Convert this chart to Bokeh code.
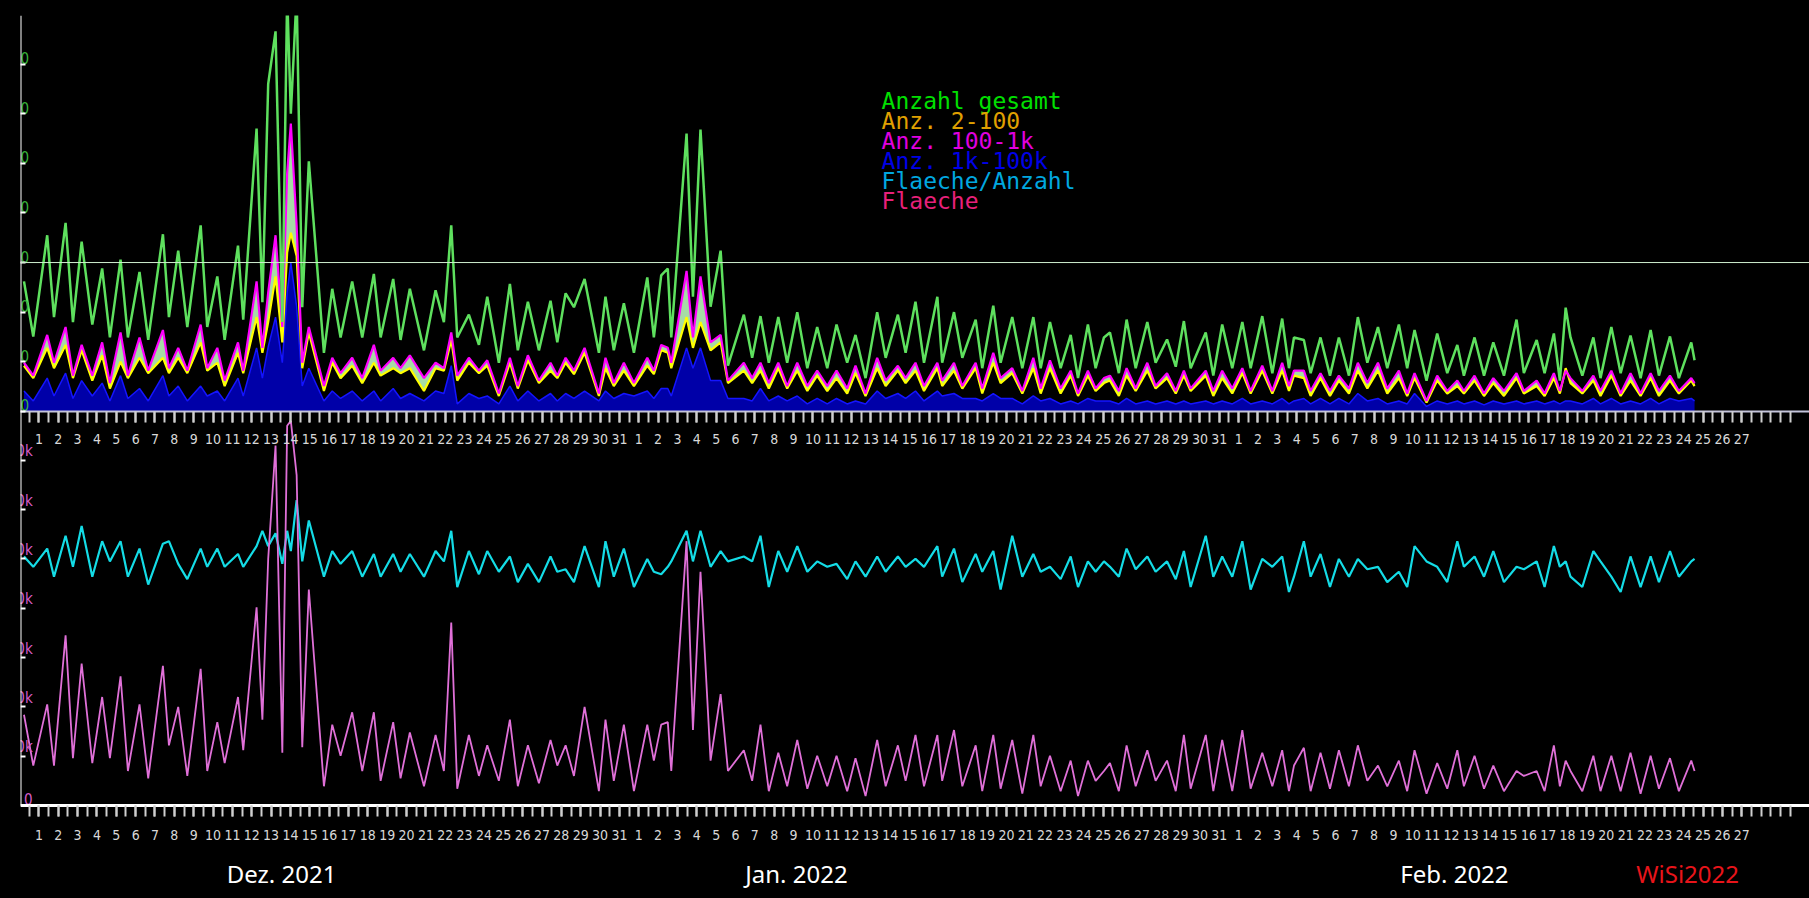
from bokeh.plotting import figure
from bokeh.models import Range1d, LinearAxis, FixedTicker, Span
from bokeh.core.properties import value
from bokeh.embed import file_html
from bokeh.resources import INLINE

# values
# t: day position, 1 = 1 Dec 2021, 32 = 1 Jan 2022, 63 = 1 Feb 2022
t = [
    0.23, 0.71, 1.43, 1.78, 2.38, 2.76, 3.21, 3.76, 4.27, 4.67,
    5.22, 5.60, 6.20, 6.65, 7.41, 7.72, 8.20, 8.67, 9.36, 9.70,
    10.22, 10.60, 11.29, 11.56, 12.25, 12.55, 12.85, 13.23, 13.58, 13.83,
    14.02, 14.32, 14.61, 14.95, 15.73, 16.16, 16.59, 17.19, 17.71, 18.31,
    18.66, 19.31, 19.69, 20.17, 20.90, 21.50, 21.93, 22.31, 22.62, 23.22,
    23.74, 24.17, 24.77, 25.34, 25.75, 26.27, 26.84, 27.44, 27.79, 28.22,
    28.65, 29.20, 29.94, 30.28, 30.71, 31.23, 31.75, 32.44, 32.78, 33.16,
    33.50, 33.68, 34.47, 34.80, 35.19, 35.71, 36.23, 36.61, 37.43, 37.86,
    38.29, 38.72, 39.21, 39.67, 40.19, 40.71, 41.22, 41.74, 42.22, 42.77,
    43.20, 43.72, 44.32, 44.76, 45.39, 45.79, 46.30, 46.74, 47.43, 47.68,
    48.29, 48.72, 49.41, 49.75, 50.32, 50.70, 51.30, 51.82, 52.39, 52.77,
    53.25, 53.80, 54.32, 54.70, 55.21, 55.61, 56.04, 56.35, 56.81, 57.21,
    57.68, 58.28, 58.71, 59.30, 59.75, 60.17, 60.52, 61.30, 61.69, 62.15,
    62.67, 63.19, 63.62, 64.22, 64.74, 65.25, 65.60, 65.86, 66.37, 66.72,
    67.23, 67.72, 68.18, 68.70, 69.16, 69.65, 70.20, 70.68, 71.28, 71.71,
    72.09, 72.71, 73.26, 73.78, 74.30, 74.64, 75.19, 75.68, 76.16, 76.71,
    77.36, 77.74, 78.40, 78.81, 79.29, 79.60, 79.90, 80.15, 80.76, 81.33,
    81.70, 82.26, 82.74, 83.25, 83.77, 84.29, 84.72, 85.29, 85.75, 86.39,
    86.56,
]
anzahl_gesamt = [
    26.2, 15.1, 35.5, 19.0, 38.0, 18.0, 34.2, 17.5, 28.8, 14.9,
    30.6, 14.9, 28.1, 14.4, 35.7, 19.0, 32.4, 17.0, 37.5, 17.0,
    27.2, 14.4, 33.4, 18.5, 57.0, 22.0, 66.0, 76.6, 18.0, 84.0,
    60.0, 84.0, 21.0, 50.4, 11.8, 24.7, 14.9, 26.2, 14.9, 27.7,
    14.9, 26.7, 14.4, 24.7, 12.3, 24.4, 18.0, 37.5, 14.9, 19.5,
    13.4, 23.1, 9.8, 25.7, 12.3, 22.1, 12.3, 22.3, 13.9, 23.8,
    21.0, 26.7, 11.8, 23.1, 12.3, 21.8, 11.8, 27.0, 14.9, 27.4,
    28.8, 14.9, 56.0, 23.1, 56.8, 21.1, 32.4, 9.2, 19.5, 10.8,
    19.2, 9.8, 19.0, 9.8, 20.0, 8.7, 17.0, 8.7, 17.5, 9.8,
    15.4, 6.7, 20.0, 10.8, 19.5, 11.8, 22.1, 9.8, 23.1, 9.8,
    20.0, 10.8, 18.5, 8.7, 21.3, 9.8, 19.0, 8.7, 19.0, 8.7,
    18.0, 8.7, 15.4, 6.7, 17.5, 8.7, 14.9, 15.9, 7.7, 18.5,
    8.7, 18.0, 9.8, 14.5, 9.0, 18.2, 8.7, 15.9, 7.2, 17.5,
    8.7, 18.0, 8.7, 19.2, 7.7, 18.7, 8.7, 14.9, 14.4, 7.7,
    14.9, 7.2, 14.9, 7.2, 19.0, 9.8, 17.0, 8.7, 17.5, 8.7,
    16.4, 6.2, 15.7, 7.7, 13.4, 7.2, 14.9, 7.2, 13.9, 7.2,
    18.5, 7.7, 14.4, 7.7, 15.7, 6.2, 20.9, 14.9, 7.2, 14.9,
    6.7, 17.0, 7.7, 15.3, 6.7, 16.4, 7.2, 15.1, 6.7, 13.9,
    10.3,
]
anz_2_100 = [
    9.2, 6.7, 12.8, 8.7, 13.4, 6.7, 12.3, 6.2, 11.3, 4.6,
    10.0, 6.7, 10.8, 7.7, 10.8, 7.7, 10.8, 7.7, 13.9, 8.2,
    9.8, 5.1, 11.8, 7.7, 19.0, 11.8, 18.0, 27.2, 13.9, 32.0,
    36.0, 31.3, 8.7, 15.9, 4.1, 9.8, 6.7, 9.2, 5.7, 9.8,
    7.2, 8.7, 7.7, 8.7, 4.1, 8.7, 8.2, 14.4, 6.2, 9.8,
    7.7, 9.2, 3.1, 9.8, 4.6, 10.3, 5.7, 8.2, 6.7, 9.8,
    7.5, 11.8, 3.1, 8.7, 5.1, 8.2, 5.1, 9.2, 7.5, 12.3,
    11.8, 8.7, 19.0, 12.8, 18.0, 12.3, 13.9, 5.7, 8.2, 5.7,
    8.2, 4.6, 8.7, 4.6, 8.2, 4.1, 7.2, 4.1, 6.7, 3.6,
    7.7, 3.1, 8.7, 5.1, 8.2, 5.7, 8.2, 4.1, 8.7, 5.1,
    8.2, 4.6, 8.7, 3.6, 9.8, 5.7, 7.7, 3.6, 8.7, 3.6,
    8.7, 3.6, 7.2, 3.1, 7.2, 4.1, 5.7, 6.2, 3.1, 7.2,
    4.1, 8.2, 4.6, 6.7, 3.6, 7.2, 4.1, 7.2, 3.1, 6.7,
    3.6, 7.7, 3.6, 8.2, 3.6, 8.2, 4.1, 7.2, 6.7, 3.1,
    6.7, 3.1, 6.2, 3.6, 8.2, 4.6, 8.2, 3.6, 6.7, 3.1,
    6.7, 1.8, 6.2, 3.6, 5.1, 3.6, 6.2, 3.1, 5.7, 3.1,
    6.7, 3.6, 5.1, 3.1, 6.7, 3.6, 8.7, 5.7, 3.6, 6.2,
    3.1, 7.2, 3.1, 6.2, 3.1, 6.7, 3.1, 6.2, 3.6, 6.2,
    5.1,
]
anz_100_1k = [
    9.8, 7.2, 15.4, 9.8, 17.0, 7.2, 13.4, 7.2, 13.9, 5.7,
    15.9, 7.2, 14.9, 8.2, 16.4, 8.7, 12.8, 8.2, 17.5, 8.7,
    12.8, 6.2, 13.9, 8.2, 26.2, 12.8, 24.0, 35.5, 17.0, 48.0,
    58.0, 37.5, 9.8, 17.0, 5.1, 10.8, 7.7, 10.8, 6.7, 13.4,
    8.2, 10.8, 8.7, 11.3, 6.7, 9.8, 8.7, 15.9, 7.2, 10.8,
    8.2, 10.3, 3.6, 10.8, 5.1, 11.3, 6.2, 9.8, 7.2, 10.8,
    8.2, 12.8, 3.6, 10.8, 5.7, 9.8, 5.7, 10.8, 8.2, 13.4,
    12.8, 9.8, 28.3, 14.9, 27.2, 13.9, 15.4, 6.2, 9.8, 6.7,
    9.8, 5.7, 9.8, 5.1, 9.8, 5.1, 8.2, 5.1, 8.2, 4.6,
    9.2, 3.6, 10.8, 6.2, 9.2, 6.7, 9.8, 5.1, 9.8, 6.2,
    9.8, 5.1, 9.8, 4.6, 11.8, 6.7, 8.7, 4.1, 10.8, 4.6,
    10.3, 4.6, 8.2, 3.6, 8.2, 4.6, 6.7, 7.2, 4.1, 8.7,
    4.6, 9.8, 5.1, 7.7, 4.1, 8.2, 4.6, 8.2, 4.1, 8.2,
    4.6, 8.7, 4.1, 9.2, 4.1, 9.8, 5.1, 8.2, 8.2, 4.1,
    7.7, 4.1, 7.2, 4.6, 9.8, 5.7, 9.8, 4.6, 8.2, 3.6,
    7.7, 2.1, 7.2, 4.1, 6.2, 4.1, 7.2, 3.6, 6.7, 4.1,
    7.7, 4.1, 6.2, 3.6, 7.7, 4.1, 8.2, 6.7, 4.1, 7.2,
    4.1, 8.2, 3.6, 7.7, 3.6, 7.7, 4.1, 7.2, 4.1, 6.7,
    5.7,
]
anz_1k_100k = [
    4.1, 2.1, 6.7, 3.1, 7.7, 2.6, 6.2, 3.1, 5.7, 2.1,
    7.2, 2.6, 4.6, 2.1, 7.2, 3.1, 5.1, 2.1, 5.1, 3.1,
    4.1, 2.1, 6.7, 3.1, 12.8, 6.7, 13.0, 19.0, 9.8, 24.0,
    30.0, 21.1, 5.1, 8.7, 2.1, 4.1, 2.6, 4.1, 2.1, 4.1,
    2.1, 4.6, 2.6, 3.6, 2.1, 4.1, 3.6, 9.2, 1.5, 3.6,
    2.6, 3.1, 1.5, 5.1, 2.1, 4.1, 2.1, 3.6, 2.1, 3.6,
    2.6, 4.1, 2.1, 4.1, 2.6, 3.6, 3.1, 4.1, 2.6, 4.6,
    4.6, 3.1, 12.8, 8.7, 12.8, 6.2, 6.2, 2.6, 2.6, 2.1,
    4.6, 2.1, 3.1, 2.1, 3.1, 1.5, 2.6, 1.5, 2.6, 1.5,
    2.1, 1.5, 4.1, 2.6, 3.6, 2.6, 4.1, 2.1, 4.1, 3.1,
    3.6, 2.6, 2.6, 2.1, 3.6, 2.6, 2.6, 1.5, 3.1, 2.1,
    2.6, 1.5, 2.1, 1.5, 2.6, 2.1, 2.1, 2.1, 1.5, 2.6,
    1.5, 2.1, 1.5, 2.1, 1.5, 2.1, 1.5, 2.1, 1.5, 2.1,
    1.5, 2.6, 1.5, 2.1, 1.5, 2.6, 1.5, 2.1, 2.6, 1.5,
    2.6, 1.5, 2.6, 1.5, 3.6, 2.1, 2.6, 1.5, 2.1, 1.5,
    3.6, 1.0, 2.1, 1.5, 2.1, 1.5, 2.1, 1.3, 2.1, 1.5,
    2.1, 1.5, 2.1, 1.5, 2.1, 1.5, 2.1, 2.1, 1.5, 2.6,
    1.5, 2.6, 1.5, 2.1, 1.5, 2.6, 1.5, 2.6, 2.1, 2.6,
    2.1,
]
# bottom panel, in thousands
flaeche_pro_anzahl = [
    50.5, 48.4, 52.1, 46.4, 54.7, 48.4, 56.7, 46.4, 53.6, 49.5,
    53.6, 46.4, 52.1, 44.8, 53.1, 53.6, 49.0, 45.9, 52.1, 48.4,
    52.1, 48.4, 51.0, 48.4, 52.6, 55.7, 52.6, 55.2, 49.0, 55.7,
    51.6, 61.9, 49.5, 57.8, 46.4, 51.6, 49.0, 51.6, 46.4, 51.0,
    46.4, 51.0, 47.4, 51.0, 46.4, 51.6, 49.5, 55.7, 44.3, 51.6,
    46.9, 51.6, 47.4, 50.5, 45.3, 49.0, 45.3, 50.5, 47.4, 47.9,
    45.3, 52.6, 44.3, 53.6, 46.4, 52.1, 44.3, 50.0, 47.4, 46.9,
    48.4, 49.5, 55.7, 49.5, 55.7, 48.4, 51.6, 49.5, 50.5, 49.5,
    54.7, 44.3, 51.6, 47.4, 52.6, 47.4, 49.5, 48.4, 49.0, 45.9,
    49.5, 46.4, 50.5, 47.4, 50.5, 48.4, 50.0, 48.4, 52.6, 46.4,
    52.1, 45.3, 51.0, 47.4, 51.6, 43.8, 54.7, 46.4, 51.0, 47.4,
    48.4, 45.9, 50.5, 44.3, 49.5, 47.4, 49.5, 48.4, 46.4, 52.1,
    47.9, 50.5, 47.4, 49.5, 45.9, 51.6, 44.3, 54.7, 46.4, 50.5,
    46.4, 53.6, 43.8, 50.0, 48.4, 50.5, 43.3, 46.4, 53.6, 46.4,
    51.0, 44.3, 50.0, 46.4, 50.0, 47.9, 48.4, 45.3, 47.4, 44.3,
    52.6, 49.5, 48.4, 45.3, 53.6, 48.4, 50.5, 46.4, 51.6, 45.3,
    48.4, 47.9, 49.5, 44.3, 52.6, 48.4, 49.5, 46.4, 44.3, 51.6,
    49.5, 46.4, 43.3, 50.5, 44.3, 50.5, 45.3, 51.6, 46.4, 49.5,
    50.0,
]
flaeche = [
    18.4, 8.1, 20.5, 8.1, 34.5, 9.6, 28.8, 8.6, 22.0, 9.6,
    26.2, 7.0, 20.5, 5.5, 28.3, 12.2, 20.0, 6.0, 27.7, 7.0,
    16.9, 8.6, 22.0, 11.2, 40.2, 17.4, 50.0, 73.0, 10.7, 77.0,
    78.0, 67.0, 11.8, 43.8, 3.9, 16.4, 10.1, 18.9, 7.0, 18.9,
    5.0, 16.9, 5.5, 14.8, 3.9, 14.3, 7.0, 37.1, 3.4, 14.3,
    6.0, 12.2, 5.0, 17.4, 3.9, 12.2, 4.5, 13.3, 8.1, 12.2,
    6.0, 20.0, 2.9, 17.4, 5.0, 16.4, 2.9, 16.4, 9.1, 16.4,
    16.9, 7.0, 53.6, 15.3, 47.4, 9.1, 22.6, 7.0, 11.2, 5.0,
    16.4, 2.9, 10.7, 3.9, 13.3, 3.4, 10.1, 3.9, 10.1, 2.9,
    9.6, 1.9, 13.3, 3.9, 12.2, 5.0, 14.3, 3.9, 14.3, 5.0,
    15.3, 3.9, 12.2, 2.9, 14.3, 3.4, 13.3, 2.4, 14.3, 3.9,
    10.1, 2.9, 9.1, 1.9, 9.1, 5.0, 7.0, 8.6, 2.9, 12.2,
    3.9, 11.2, 5.0, 9.1, 2.9, 14.3, 3.4, 14.3, 2.9, 13.3,
    2.9, 15.3, 3.4, 10.7, 3.9, 11.2, 2.9, 8.1, 11.7, 2.9,
    10.7, 3.4, 11.2, 3.9, 12.2, 5.0, 8.1, 3.9, 9.1, 2.9,
    11.2, 2.4, 8.6, 3.4, 11.2, 3.9, 10.1, 3.4, 8.1, 2.9,
    7.0, 6.0, 7.0, 2.9, 12.2, 3.9, 9.1, 7.0, 2.9, 10.1,
    2.9, 10.1, 2.9, 10.7, 2.4, 10.1, 3.4, 9.6, 2.9, 9.1,
    7.0,
]

count_ticks = [0, 10, 20, 30, 40, 50, 60, 70]
count_labels = ["0", "10", "20", "30", "40", "50", "60", "70"]
area_ticks = [0, 10, 20, 30, 40, 50, 60, 70]
area_labels = ["0", "10k", "20k", "30k", "40k", "50k", "60k", "70k"]
month_lengths = [31, 31, 27]
month_names = ["Dez. 2021", "Jan. 2022", "Feb. 2022"]
month_pos = [13.54, 40.15, 74.15]
signature = "WiSi2022"
signature_pos = 86.2
legend_names = ["Anzahl gesamt", "Anz. 2-100", "Anz. 100-1k",
                "Anz. 1k-100k", "Flaeche/Anzahl", "Flaeche"]
legend_colors = ["#00e000", "#e0a000", "#e000e0", "#0000e8", "#00a8e0", "#e8207a"]

day_pos = list(range(1, 90))
day_labels = [str(d) for n in month_lengths for d in range(1, n + 1)]
half_days = [k / 2 for k in range(1, 184)]

NARROW = "'Liberation Sans Narrow', 'DejaVu Sans Condensed', 'Roboto Condensed', sans-serif"

# one frame down to the page bottom: top panel on the default range,
# bottom panel on "area"; the month names sit inside the frame
p = figure(width=1809, height=898,
           x_range=Range1d(0.05, 92.5), y_range=Range1d(-98.2, 79.8),
           x_axis_location=None,
           toolbar_location=None, output_backend="svg",
           background_fill_color="black", border_fill_color="black",
           min_border_left=20, min_border_right=0,
           min_border_top=15, min_border_bottom=0)
p.outline_line_color = None
p.extra_y_ranges["area"] = Range1d(-18.86, 160.2)
p.grid.visible = False

# top panel
p.varea(x=t, y1=0, y2=anz_1k_100k, fill_color="#0000a8")
p.line(t, anz_1k_100k, line_color="#1414ff", line_width=1.5)
p.varea(x=t, y1=anz_2_100, y2=anz_100_1k, fill_color="#a6dca6")
p.line(t, anz_2_100, line_color="#ffff00", line_width=2.2)
p.line(t, anz_100_1k, line_color="#ff00ff", line_width=2.2)
p.line(t, anzahl_gesamt, line_color="#5ee05e", line_width=2.5)
p.add_layout(Span(location=30, dimension="width", line_color="#cfeecf", line_width=1))

# bottom panel
p.line(t, flaeche_pro_anzahl, line_color="#14dce6", line_width=2.2, y_range_name="area")
p.line(t, flaeche, line_color="#e070d8", line_width=1.8, y_range_name="area")

# y labels sit inside the frame, cut at the axis line
p.text(x=[0.5] * len(count_ticks), y=count_ticks, text=count_labels,
       text_align="right", text_baseline="bottom", text_color="#3ab53a",
       text_font=value(NARROW), text_font_size="15px")
p.text(x=[0.68] * len(area_ticks), y=area_ticks, text=area_labels,
       text_align="right", text_baseline="bottom", text_color="#d55cc8",
       text_font=value(NARROW), text_font_size="15px", y_range_name="area")

# legend
p.text(x=[44.55] * len(legend_names), y=[62.6, 58.6, 54.6, 50.5, 46.5, 42.5],
       text=legend_names, text_color=legend_colors,
       text_font=value("DejaVu Sans Mono"), text_font_size="23px",
       text_baseline="alphabetic")

# month names and signature under the bottom axis
p.text(x=month_pos, y=[-13.7] * len(month_pos), text=month_names, y_range_name="area",
       text_color="white", text_font=value("Noto Sans"), text_font_size="24px",
       text_align="center", text_baseline="alphabetic")
p.text(x=[signature_pos], y=[-13.7], text=[signature], y_range_name="area",
       text_color="#e8141a", text_font=value("Noto Sans"), text_font_size="24px",
       text_align="center", text_baseline="alphabetic")

# left axes: small inner ticks; the line only down to the bottom axis
def tick_only(ax, ticks):
    ax.ticker = FixedTicker(ticks=ticks)
    ax.axis_line_color = None
    ax.major_tick_in = 5
    ax.major_tick_out = 0
    ax.major_tick_line_color = "white"
    ax.major_tick_line_width = 2
    ax.minor_tick_line_color = None
    ax.major_label_text_color = None
    ax.major_label_text_font_size = "1px"
    ax.major_label_standoff = 0

tick_only(p.yaxis[0], count_ticks)
area_axis = LinearAxis(y_range_name="area", fixed_location=0.05, bounds=(0, 160.2))
tick_only(area_axis, area_ticks)
area_axis.axis_line_color = "white"
area_axis.axis_line_width = 2
p.add_layout(area_axis, "left")

# day axes (middle and bottom), both fixed inside the frame
day_ticker = FixedTicker(ticks=day_pos, minor_ticks=half_days)

def day_axis(ax, line_color, line_width, standoff):
    ax.ticker = day_ticker
    ax.major_label_overrides = dict(zip(day_pos, day_labels))
    ax.axis_line_color = line_color
    ax.axis_line_width = line_width
    ax.major_tick_in = 0
    ax.major_tick_out = 11
    ax.minor_tick_in = 0
    ax.minor_tick_out = 11
    ax.major_tick_line_color = "#cfcfcf"
    ax.minor_tick_line_color = "#cfcfcf"
    ax.major_tick_line_width = 2
    ax.minor_tick_line_width = 2
    ax.major_label_text_color = "#d8d8d8"
    ax.major_label_text_font = NARROW
    ax.major_label_text_font_size = "14px"
    ax.major_label_standoff = standoff
    p.add_layout(ax, "below")

day_axis(LinearAxis(fixed_location=0), "#c4c4dc", 2, 12)
day_axis(LinearAxis(y_range_name="area", fixed_location=0), "white", 3, 14)

page_style = "<style>html,body{margin:0;padding:0;background:#000;overflow:hidden}</style></head>"
open("out.html", "w").write(file_html(p, INLINE).replace("</head>", page_style, 1))
